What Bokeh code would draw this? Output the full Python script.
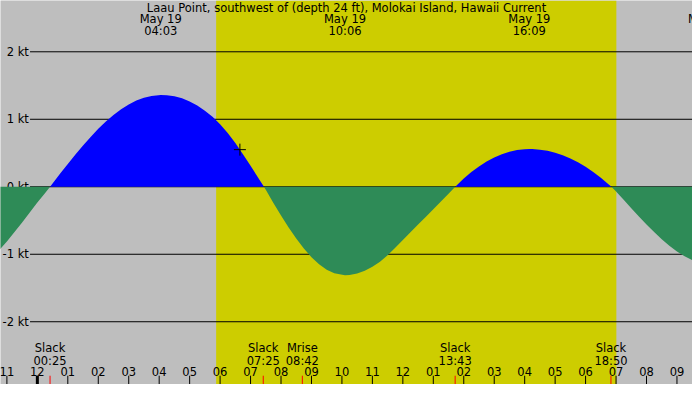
from bokeh.plotting import figure
from bokeh.models import Range1d
from bokeh.core.properties import value
from bokeh.embed import file_html
from bokeh.resources import INLINE

# hours after midnight, May 19 and current speed in knots (+ flood, - ebb)
hours = [-1.5, -1.25, -1.0, -0.75, -0.5, -0.25, 0.0, 0.25, 0.417,
         0.5, 0.75, 1.0, 1.25, 1.5, 1.75, 2.0, 2.25, 2.5, 2.75, 3.0, 3.25, 3.5, 3.75, 4.05,
         4.25, 4.5, 4.75, 5.0, 5.25, 5.5, 5.75, 6.0, 6.25, 6.5, 6.75, 7.0, 7.25, 7.44,
         7.5, 7.75, 8.0, 8.25, 8.5, 8.75, 9.0, 9.25, 9.5, 9.75, 10.1,
         10.25, 10.5, 10.75, 11.0, 11.25, 11.5, 11.75, 12.0, 12.25, 12.5, 12.75, 13.0, 13.25, 13.5, 13.72,
         14.0, 14.25, 14.5, 14.75, 15.0, 15.25, 15.5, 15.75, 16.0, 16.15,
         16.25, 16.5, 16.75, 17.0, 17.25, 17.5, 17.75, 18.0, 18.25, 18.5, 18.75, 18.85,
         19.0, 19.25, 19.5, 19.75, 20.0, 20.25, 20.5, 20.75, 21.0, 21.25, 21.5, 21.75, 22.0]
speed = [-1.06, -0.94, -0.81, -0.67, -0.53, -0.38, -0.235, -0.095, 0.0,
         0.049, 0.195, 0.338, 0.478, 0.612, 0.739, 0.858, 0.966, 1.064, 1.148, 1.219, 1.277, 1.319, 1.346, 1.358,
         1.357, 1.341, 1.310, 1.264, 1.203, 1.127, 1.036, 0.928, 0.798, 0.648, 0.483, 0.311, 0.135, 0.0,
         -0.046, -0.239, -0.425, -0.603, -0.768, -0.915, -1.043, -1.148, -1.229, -1.282, -1.31,
         -1.307, -1.286, -1.246, -1.187, -1.110, -1.013, -0.902, -0.789, -0.675, -0.561, -0.447, -0.332, -0.218, -0.103, 0.0,
         0.121, 0.217, 0.301, 0.373, 0.434, 0.482, 0.519, 0.544, 0.557, 0.56,
         0.559, 0.550, 0.532, 0.504, 0.466, 0.419, 0.362, 0.295, 0.219, 0.133, 0.037, 0.0,
         -0.07, -0.193, -0.318, -0.44, -0.558, -0.671, -0.776, -0.873, -0.96, -1.03, -1.085, -1.12, -1.14]

# max flood / ebb labels along the top (the last one runs off the right edge)
max_hours = [4.05, 10.1, 16.15, 22.05]
max_dates = ["May 19", "May 19", "May 19", "May 19"]
max_times = ["04:03", "10:06", "16:09"]

# slack + moonrise events along the bottom
event_hours = [0.417, 7.417, 8.7, 13.717, 18.833]
event_names = ["Slack", "Slack", "Mrise", "Slack", "Slack"]
event_times = ["00:25", "07:25", "08:42", "13:43", "18:50"]

sunrise = 5.87
sunset = 19.01

now_hour = [6.65]
now_speed = [0.55]

tick_hours = list(range(-1, 22))
tick_labels = ["11", "12", "01", "02", "03", "04", "05", "06", "07", "08", "09", "10",
               "11", "12", "01", "02", "03", "04", "05", "06", "07", "08", "09"]

kt_levels = [2, 1, 0, -1, -2]
kt_labels = ["2 kt", "1 kt", "0 kt", "-1 kt", "-2 kt"]

title = "Laau Point, southwest of (depth 24 ft), Molokai Island, Hawaii Current"

x_start, x_end = -1.21, 21.51
y_bottom, y_top = -2.93, 2.76

font = value("DejaVu Sans")
fsize = "11.5px"

p = figure(width=692, height=384, x_range=Range1d(x_start, x_end), y_range=Range1d(y_bottom, y_top),
           output_backend="svg", toolbar_location=None, min_border=0,
           x_axis_location=None, y_axis_location=None)
p.grid.grid_line_color = None
p.outline_line_color = None
p.background_fill_color = "#bebebe"
p.border_fill_color = "#bebebe"

# daylight
p.quad(left=[sunrise], right=[sunset], bottom=[y_bottom], top=[y_top], color="#cdcd00", line_color=None)

# kt lines and labels
p.segment(x0=-0.24, x1=x_end, y0=kt_levels, y1=kt_levels, line_color="black", line_width=1)
p.text(x=-0.28, y=kt_levels, text=kt_labels, text_align="right", text_baseline="middle",
       text_font=font, text_font_size=fsize, text_color="black")

# flood and ebb areas
flood = [max(s, 0) for s in speed]
ebb = [min(s, 0) for s in speed]
p.varea(x=hours, y1=0, y2=flood, fill_color="#0000ff")
p.varea(x=hours, y1=0, y2=ebb, fill_color="#2e8b57")

p.scatter(x=now_hour, y=now_speed, marker="cross", size=12, line_color="black", line_width=1)

# hour ticks
p.segment(x0=tick_hours, x1=tick_hours, y0=-2.80, y1=y_bottom, line_color="black", line_width=1)
p.segment(x0=[0], x1=[0], y0=[-2.80], y1=[y_bottom], line_color="black", line_width=3)
p.segment(x0=event_hours, x1=event_hours, y0=-2.80, y1=y_bottom, line_color="red", line_width=1)
p.text(x=tick_hours, y=-2.738, text=tick_labels, text_align="center", text_baseline="middle",
       text_font=font, text_font_size=fsize, text_color="black")

# event labels
p.text(x=event_hours, y=-2.39, text=event_names, text_align="center", text_baseline="middle",
       text_font=font, text_font_size=fsize, text_color="black")
p.text(x=event_hours, y=-2.575, text=event_times, text_align="center", text_baseline="middle",
       text_font=font, text_font_size=fsize, text_color="black")

# max labels
p.text(x=max_hours, y=2.482, text=max_dates, text_align="center", text_baseline="middle",
       text_font=font, text_font_size=fsize, text_color="black")
p.text(x=max_hours[:3], y=2.304, text=max_times, text_align="center", text_baseline="middle",
       text_font=font, text_font_size=fsize, text_color="black")

p.text(x=[10.15], y=[2.653], text=[title], text_align="center", text_baseline="middle",
       text_font=font, text_font_size=fsize, text_color="black")

open("out.html", "w").write(file_html(p, INLINE))
